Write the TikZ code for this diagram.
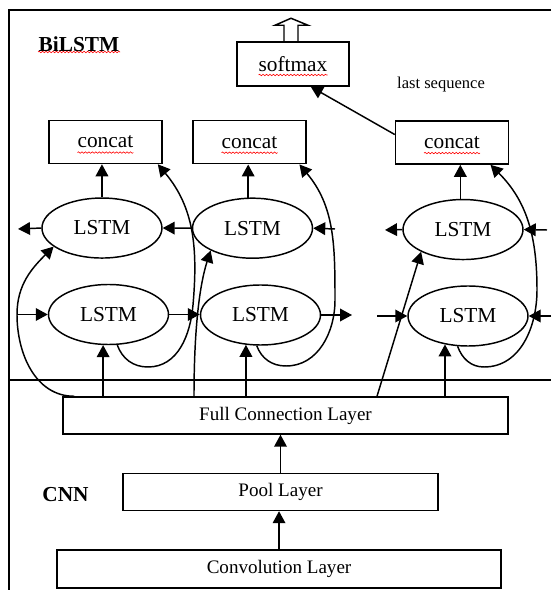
\documentclass[tikz,border=0pt]{standalone}
\usepackage{fontspec}
\setmainfont{Liberation Serif}
\usetikzlibrary{calc}
\usetikzlibrary{arrows.meta}
\usetikzlibrary{decorations.pathmorphing}
\usetikzlibrary{positioning}
\usetikzlibrary{shapes.geometric}

\begin{document}
\begin{tikzpicture}[x=0.75pt, y=0.75pt,
    box/.style={rectangle, draw, line width=1.1pt, minimum width=84.75pt, minimum height=32.25pt, inner sep=0pt, font=\fontsize{16}{18}\selectfont},
    lstm/.style={ellipse, draw, line width=1.1pt, minimum width=90pt, minimum height=45pt, inner sep=0pt, font=\fontsize{16}{18}\selectfont},
    layer/.style={rectangle, draw, line width=1.1pt, minimum height=27.75pt, inner sep=0pt, font=\fontsize{14.3}{16}\selectfont},
    arr/.style={-{Triangle[length=9pt,width=9.5pt]}, line width=1.1pt},
    spell/.style={red, line width=0.45pt, decorate, decoration={snake, amplitude=0.55pt, segment length=2.6pt}}]
      \useasboundingbox (0,0) rectangle (551,590);
      \draw[line width=1pt] (551,580) -- (9,580) -- (9,0);
      \draw[line width=1pt] (9,210) -- (551,210);

      \node[layer, minimum width=333.75pt] (FC) at (285.5,174.5) {Full Connection Layer};
      \node[layer, minimum width=236.25pt, below=28.5pt of FC, xshift=-3.75pt] (Pool) {Pool Layer};
      \node[layer, minimum width=333pt, minimum height=28.5pt, below=28.5pt of Pool, xshift=-1.1pt] (Conv) {Convolution Layer};
      \node[font=\bfseries\fontsize{16}{18}\selectfont] (cnn) at (65.5,95) {CNN};

      \node[font=\bfseries\fontsize{16}{18}\selectfont] (bilstm) at (79,546) {BiLSTM};
      \node[lstm] (bot1) at (108.5,275.5) {LSTM};
      \node[lstm] (bot2) at (260.5,275) {LSTM};
      \node[lstm] (bot3) at (468,274) {LSTM};
      \node[lstm, above=18.75pt of bot1, xshift=-4.9pt] (top1) {LSTM};
      \node[lstm, above=19pt of bot2, xshift=-6pt] (top2) {LSTM};
      \node[lstm, above=18.75pt of bot3, xshift=-3.75pt] (top3) {LSTM};
      \node[box, above=24.75pt of top1, xshift=2.6pt] (concat1) {concat};
      \node[box, above=24.75pt of top2, xshift=-2.25pt] (concat2) {concat};
      \node[box, above=25.5pt of top3, xshift=-8.25pt] (concat3) {concat};
      \node[box, minimum width=84pt, minimum height=33pt] (softmax) at (293,526) {softmax};
      \node[font=\fontsize{12.4}{14}\selectfont] (lastseq) at (441,505) {last sequence};

      \draw[spell] ($(bilstm)+(-41,-8)$) -- ++(82,0);
      \draw[spell] ($(softmax)+(-34.5,-11)$) -- ++(69,0);
      \draw[spell] ($(concat1)+(-28,-10.5)$) -- ++(56,0);
      \draw[spell] ($(concat2)+(-28,-10.5)$) -- ++(56,0);
      \draw[spell] ($(concat3)+(-28,-10.5)$) -- ++(56,0);

      \coordinate (fwdin) at (17,275.5);
      \coordinate (bwdout1) at (18,361);
      \coordinate (bwdin2) at (335,361);
      \coordinate (fwdout2) at (352,275);
      \coordinate (bwdout3) at (385,360);
      \coordinate (fwdin3) at (377,274);
      \coordinate (bwdin3) at (547,360);
      \coordinate (fwdin3r) at (551,274);

      \draw[arr] (Conv.north) -- (Conv.north |- Pool.south);
      \draw[arr] (Pool.north) -- (Pool.north |- FC.south);
      \draw[arr] (FC.north -| bot1.260) -- (bot1.260);
      \draw[arr] (FC.north -| bot2.244) -- (bot2.244);
      \draw[arr] (FC.north -| bot3.231) -- (bot3.231);
      \draw[arr] ($(FC.north west)+(12,0)$) to[out=180,in=-90] (fwdin) to[out=90,in=225] (top1.201);
      \draw[arr] (FC.north -| 194,0) .. controls (194,250) and (198,300) .. (top2.208);
      \draw[arr] (FC.north -| 377,0) -- (top3.208);

      \draw[arr] (fwdin) -- (bot1.west);
      \draw[arr] (bot1.east) -- (bot1.east -| bot2.west);
      \draw[arr] (bot2.east) -- (fwdout2);
      \draw[arr] (fwdin3) -- (bot3.west);
      \draw[arr] (fwdin3r) -- (bot3.east);
      \draw[arr] (top1.west) -- (bwdout1);
      \draw[arr] (top2.west) -- (top1.east);
      \draw[arr] (bwdin2) -- (top2.east);
      \draw[arr] (top3.west) -- (bwdout3);
      \draw[arr] (bwdin3) -- (top3.east);

      \draw[arr] (top1.north) -- (top1.north |- concat1.south);
      \draw[arr] (top2.98) -- (top2.98 |- concat2.south);
      \draw[arr] (top3.95) -- (top3.95 |- concat3.south);
      \draw[arr] (bot1.286) to[out=-70,in=180] (148,223) to[out=0,in=-95] (193,285) to[out=85,in=-50] (concat1.-23);
      \draw[arr] (bot2.263) to[out=-70,in=180] (286,224) to[out=0,in=-90] (335,290) to[out=90,in=-50] (concat2.-24);
      \draw[arr] (bot3.251) to[out=-70,in=180] (484,223) to[out=0,in=-90] (537,300) to[out=90,in=-45] (concat3.-30);

      \draw[arr] (concat3.172) -- (softmax.-52);
      \draw[line width=1.1pt] ($(softmax.north)+(-9,0)$) -- ++(0,16) -- ++(-9,0) -- ++(16,7) -- ++(17,-7) -- ++(-10,0) -- ++(0,-16);
    \end{tikzpicture}
\end{document}
